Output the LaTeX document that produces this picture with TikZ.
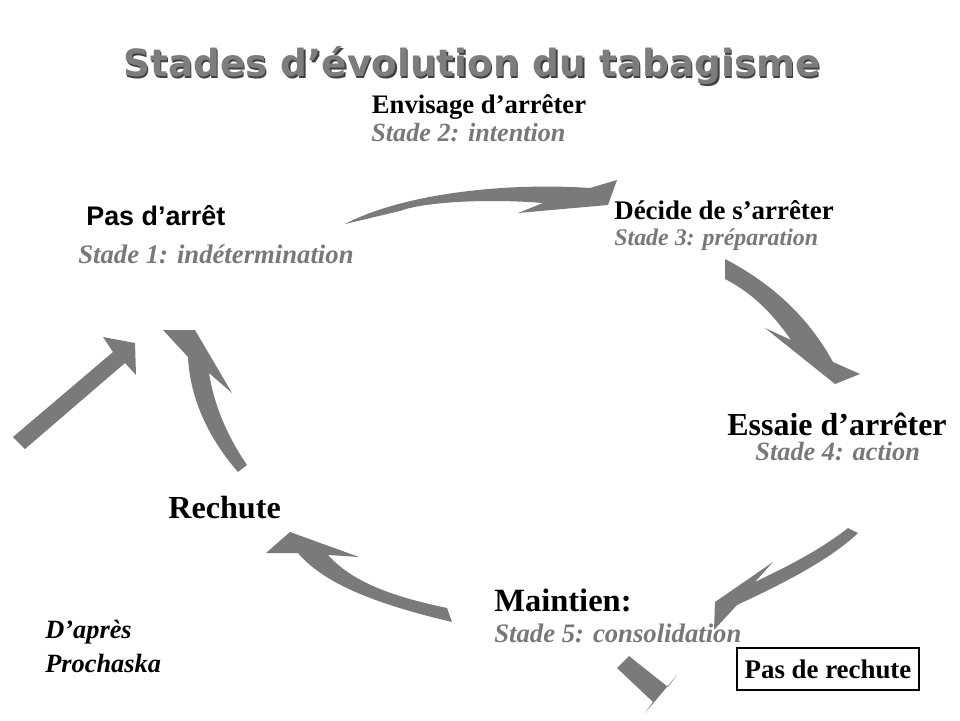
\documentclass[tikz,border=0pt]{standalone}
\usepackage{fontspec}
\setmainfont{Liberation Serif}
\newfontfamily\lsans{Liberation Sans}
\newfontfamily\djv{DejaVu Sans}
\begin{document}
\begin{tikzpicture}[x=0.02cm,y=-0.02cm,
  arrowfill/.style={fill=black!52},
  stagename/.style={inner sep=0pt,anchor=west,font=\bfseries,text=black},
  stagesub/.style={inner sep=0pt,anchor=west,font=\bfseries\itshape,text=black!53}]
\useasboundingbox (0,0) rectangle (960,720);
% arrows
\fill[arrowfill] (345,224) .. controls (400,195) and (500,182) .. (590,188) -- (617,180) -- (608,205) -- (518,213) -- (543,203) .. controls (480,198) and (420,203) .. (400,211) -- cycle;
\fill[arrowfill] (725,259) .. controls (775,285) and (810,320) .. (833,362) -- (860,374) -- (835,384) -- (765,328) -- (791,340) .. controls (770,310) and (750,292) .. (725,279) -- cycle;
\fill[arrowfill] (848,528) .. controls (820,550) and (790,565) .. (755,582) -- (773,562) -- (715,602) -- (714,630) -- (737,605) .. controls (780,585) and (830,560) .. (858,533) -- cycle;
\fill[arrowfill] (629,656) -- (668,687) -- (677,675) -- (645,713) -- (653,702) -- (617,668) -- cycle;
\fill[arrowfill] (266,553) -- (290,532) -- (359,557) -- (328,555) .. controls (355,585) and (400,598) .. (447,608) -- (452,622) .. controls (380,605) and (325,585) .. (298,553) -- cycle;
\fill[arrowfill] (13,437) -- (113,352) -- (103,337) -- (135,343) -- (136,375) -- (125,363) -- (25,449) -- cycle;
\fill[arrowfill] (163,330) -- (195,330) -- (232,393) -- (209,373) .. controls (215,410) and (230,440) .. (247,465) -- (238,472) .. controls (210,440) and (190,400) .. (188,357) -- cycle;
% title
\node[inner sep=0pt,font=\djv\bfseries\fontsize{21.3}{25}\selectfont,text=black!75] (titleshadow) at (473.5,67.5) {Stades d’évolution du tabagisme};
\node[inner sep=0pt,font=\djv\bfseries\fontsize{21.3}{25}\selectfont,text=black!51] (title) at (472,66) {Stades d’évolution du tabagisme};
% stage texts
\node[inner sep=0pt,font=\bfseries\fontsize{15.2}{18}\selectfont] (s2n) at (479,107) {Envisage d’arrêter};
\node[stagesub,font=\bfseries\itshape\fontsize{14.9}{17}\selectfont] (s2s) at (371,133) {Stade 2: intention};
\node[stagename,font=\lsans\bfseries\fontsize{15.3}{18}\selectfont] (s1n) at (86,216) {Pas d’arrêt};
\node[stagesub,font=\bfseries\itshape\fontsize{15.2}{18}\selectfont] (s1s) at (78,254) {Stade 1: indétermination};
\node[stagename,font=\bfseries\fontsize{15.3}{18}\selectfont] (s3n) at (614,210) {Décide de s’arrêter};
\node[stagesub,font=\bfseries\itshape\fontsize{13.6}{16}\selectfont] (s3s) at (614,240) {Stade 3: préparation};
\node[stagename,font=\bfseries\fontsize{18.2}{21}\selectfont] (s4n) at (727,424) {Essaie d’arrêter};
\node[stagesub,font=\bfseries\itshape\fontsize{15}{18}\selectfont] (s4s) at (755,452) {Stade 4: action};
\node[stagename,font=\bfseries\fontsize{18.3}{21}\selectfont] (rech) at (168,508) {Rechute};
\node[stagename,font=\bfseries\fontsize{18.5}{21}\selectfont] (s5n) at (494,600) {Maintien:};
\node[stagesub,font=\bfseries\itshape\fontsize{15.2}{18}\selectfont] (s5s) at (494,633) {Stade 5: consolidation};
\node[stagename,font=\bfseries\itshape\fontsize{15}{18}\selectfont] (src1) at (45,632) {D’après};
\node[stagename,font=\bfseries\itshape\fontsize{15}{18}\selectfont] (src2) at (45,663) {Prochaska};
\node[inner sep=0pt,font=\bfseries\fontsize{15.3}{18}\selectfont] (norel) at (828,669) {Pas de rechute};
\draw[line width=0.6pt] (737,648) rectangle (919,690);
\end{tikzpicture}
\end{document}
